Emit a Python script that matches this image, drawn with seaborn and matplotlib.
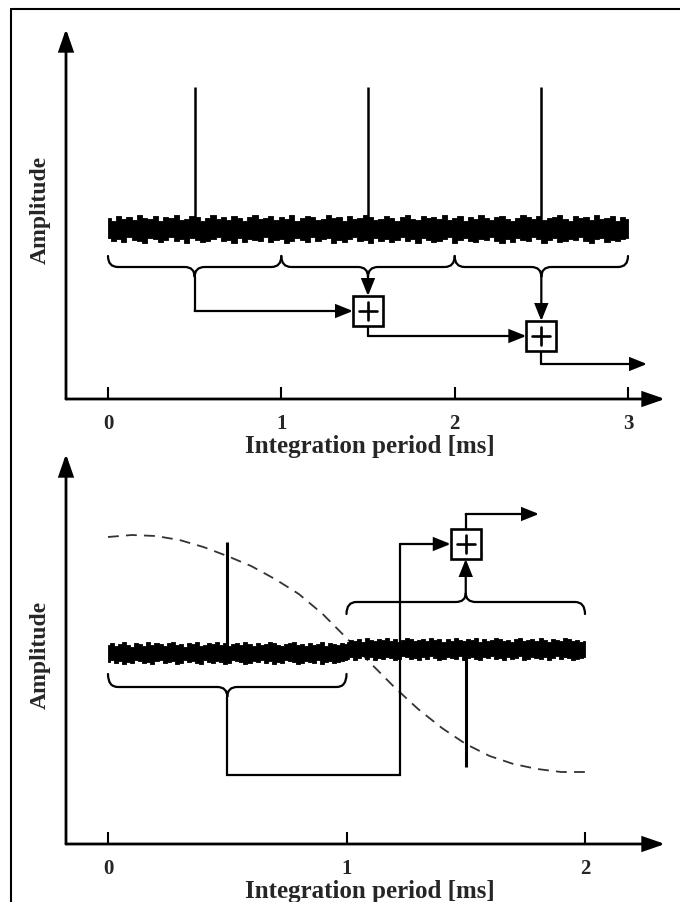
import numpy as np
import pandas as pd
import matplotlib
matplotlib.use("Agg")
import matplotlib.pyplot as plt
import seaborn as sns
from matplotlib.patches import Rectangle, PathPatch
from matplotlib.path import Path
from matplotlib.lines import Line2D

sns.set_theme(style="white")
plt.rcParams["font.family"] = ["Liberation Serif", "DejaVu Serif"]

# ---------------- data ----------------
x_label = "Integration period [ms]"
y_label = "Amplitude"

# top panel (three 1 ms periods)
top_ticks = [0, 1, 2, 3]
top_spike_x = [0.5, 1.5, 2.5]
top_spike_top = 312
top_noise_level = 170
top_noise_hi = [11, 8, 13, 10, 12, 9, 14, 11, 10, 13,
                8, 12, 11, 14, 9, 10, 13, 12, 8, 11,
                14, 10, 12, 9, 13, 11, 8, 12, 14, 10,
                11, 13, 9, 12, 10, 14, 8, 11, 13, 12,
                9, 10, 14, 11, 12, 8, 13, 10, 11, 14,
                12, 9, 10, 13, 11, 8, 12, 14, 10, 9,
                13, 11, 12, 10, 14, 9, 11, 13, 8, 12,
                10, 14, 11, 9, 12, 13, 10, 8, 11, 14,
                12, 10, 13, 9, 11, 12, 14, 10, 8, 13,
                11, 12, 9, 14, 10, 11, 13, 8, 12, 10]
top_noise_lo = [9, 12, 10, 13, 8, 11, 12, 14, 9, 10,
                13, 11, 8, 12, 10, 14, 9, 11, 13, 12,
                10, 8, 12, 11, 14, 9, 13, 10, 11, 12,
                8, 13, 11, 10, 14, 12, 9, 11, 13, 8,
                12, 10, 9, 14, 11, 13, 10, 8, 12, 11,
                14, 9, 12, 10, 13, 11, 8, 12, 10, 14,
                9, 11, 13, 12, 10, 8, 14, 11, 9, 12,
                13, 10, 11, 8, 12, 14, 10, 13, 9, 11,
                12, 8, 10, 14, 11, 9, 13, 12, 10, 11,
                8, 12, 14, 10, 9, 13, 11, 12, 10, 9]
top_periods = [(0, 1), (1, 2), (2, 3)]
top_box_x = [1.5, 2.5]
top_box_y = [88, 63]

# bottom panel (two 1 ms periods, phase flip)
bottom_ticks = [0, 1, 2]
bottom_noise_level = [191, 195]
bottom_up_spike = (0.5, 302)
bottom_down_spike = (1.5, 77)
bl_hi = [8, 10, 7, 9, 11, 8, 6, 10, 9, 7, 11, 8, 10, 9, 7, 10, 11, 8, 9, 6,
         10, 9, 11, 7, 8, 10, 9, 11, 8, 10, 7, 9, 10, 8, 11, 9, 7, 10, 8, 9,
         11, 10, 8, 7, 9, 10, 11, 8, 9, 7, 10, 8, 9, 11, 7, 10, 9, 8, 10, 9]
bl_lo = [9, 7, 10, 8, 11, 9, 10, 7, 8, 10, 9, 11, 8, 7, 10, 9, 8, 11, 10, 7,
         9, 8, 10, 11, 7, 9, 10, 8, 9, 11, 10, 7, 8, 9, 11, 10, 8, 9, 7, 10,
         8, 11, 9, 10, 7, 8, 9, 11, 10, 8, 9, 10, 7, 11, 9, 8, 10, 9, 8, 7]
br_hi = [7, 9, 8, 10, 7, 11, 9, 8, 10, 9, 11, 8, 10, 7, 9, 11, 10, 8, 9, 10,
         8, 11, 9, 10, 7, 10, 8, 11, 9, 8, 10, 9, 11, 7, 10, 8, 9, 11, 10, 8,
         9, 7, 10, 11, 8, 9, 10, 8, 11, 9, 7, 10, 9, 8, 11, 10, 8, 9, 7, 8]
br_lo = [10, 8, 11, 9, 7, 10, 8, 11, 9, 10, 8, 9, 11, 10, 7, 8, 10, 9, 11, 8,
         10, 7, 9, 11, 10, 8, 9, 10, 7, 11, 9, 8, 10, 11, 8, 9, 7, 10, 9, 11,
         8, 10, 9, 7, 11, 10, 8, 9, 10, 8, 11, 9, 7, 10, 8, 9, 11, 10, 9, 8]
carrier_x = [0.0, 0.1, 0.2, 0.3, 0.4, 0.5, 0.6, 0.7, 0.8, 0.9, 1.0,
             1.1, 1.2, 1.3, 1.4, 1.5, 1.6, 1.7, 1.8, 1.9, 2.0]
carrier_y = [307, 309, 308, 304, 297, 288, 278, 265, 250, 230, 206,
             181, 157, 135, 116, 100, 88, 80, 75, 72, 72]

# ---------------- figure ----------------
W, H = 680, 903
fig = plt.figure(figsize=(W / 100, H / 100), dpi=100)
fig.patch.set_facecolor("white")

top_x0_px, top_scale = 108, 173.33
bot_x0_px, bot_scale = 108, 238.5
top_axis_py, bot_axis_py = 400, 845

ax1 = fig.add_axes([0, 0.5, 1, 0.5])
ax2 = fig.add_axes([0, 0, 1, 0.5])
ax1.set_xlim(-top_x0_px / top_scale, (W - top_x0_px) / top_scale)
ax1.set_ylim(top_axis_py - H / 2, top_axis_py)
ax2.set_xlim(-bot_x0_px / bot_scale, (W - bot_x0_px) / bot_scale)
ax2.set_ylim(bot_axis_py - H, bot_axis_py - H / 2)
for ax in (ax1, ax2):
    ax.set_axis_off()

LW = 1.6
FONT = dict(family=["Liberation Serif", "DejaVu Serif"], weight="bold")


def arrow(ax, start, end, lw=LW, hl=1.0, hw=0.4, ms=10):
    ax.annotate("", xy=end, xytext=start,
                arrowprops=dict(arrowstyle=f"-|>,head_length={hl},head_width={hw}",
                                lw=lw, color="black", shrinkA=0, shrinkB=0,
                                mutation_scale=ms, joinstyle="miter"))


def path_arrow(ax, pts, lw=LW):
    xs = [p[0] for p in pts[:-1]]
    ys = [p[1] for p in pts[:-1]]
    ax.plot(xs, ys, color="black", lw=lw, solid_joinstyle="miter")
    arrow(ax, pts[-2], pts[-1], lw=lw)


def brace(ax, x0, x1, ytip, yline, ycusp, rx, lw=LW):
    xm = (x0 + x1) / 2
    verts = [(x0, ytip), (x0, yline), (x0 + rx, yline),
             (xm - rx, yline), (xm, yline), (xm, ycusp),
             (xm, yline), (xm + rx, yline),
             (x1 - rx, yline), (x1, yline), (x1, ytip)]
    codes = [Path.MOVETO, Path.CURVE3, Path.CURVE3,
             Path.LINETO, Path.CURVE3, Path.CURVE3,
             Path.CURVE3, Path.CURVE3,
             Path.LINETO, Path.CURVE3, Path.CURVE3]
    ax.add_patch(PathPatch(Path(verts, codes), fill=False, lw=lw,
                           edgecolor="black", capstyle="round"))


def sum_box(ax, xc, yc, scale, half_px=15, lw=LW):
    hx = half_px / scale
    ax.add_patch(Rectangle((xc - hx, yc - half_px), 2 * hx, 2 * half_px,
                           fill=True, facecolor="white", edgecolor="black",
                           lw=lw + 0.3, zorder=5))
    p = 9
    ax.plot([xc - p / scale, xc + p / scale], [yc, yc], color="black", lw=lw + 0.3, zorder=6)
    ax.plot([xc, xc], [yc - p, yc + p], color="black", lw=lw + 0.3, zorder=6)


def noise(ax, x0, x1, level, hi, lo):
    xs = np.linspace(x0, x1, len(hi))
    ax.fill_between(xs, level - np.array(lo), level + np.array(hi),
                    step="mid", color="black", lw=0.6, edgecolor="black")


def axes_frame(ax, x0_px, scale, axis_top, ticks):
    xa = (66 - x0_px) / scale
    xe = (665 - x0_px) / scale
    arrow(ax, (xa, 0), (xa, axis_top), lw=2.0, hl=1.3, hw=0.45, ms=10)
    arrow(ax, (xa, 0), (xe, 0), lw=2.0, hl=1.3, hw=0.45, ms=10)
    ax.vlines(ticks, 0, 12, color="black", lw=1.5)
    for t in ticks:
        ax.text(t, -24, str(t), ha="center", va="center", fontsize=15, **FONT)
    ax.text((370 - x0_px) / scale, -47, x_label, ha="center", va="center",
            fontsize=18, **FONT)
    ax.text((40 - x0_px) / scale, 190, y_label, rotation=90, ha="center",
            va="center", fontsize=17, **FONT)


# ---------------- top panel ----------------
axes_frame(ax1, top_x0_px, top_scale, 370, top_ticks)
noise(ax1, 0, 3, top_noise_level, top_noise_hi, top_noise_lo)
ax1.vlines(top_spike_x, top_noise_level, top_spike_top, color="black", lw=1.8)
rx1 = 10 / top_scale
for (a, b) in top_periods:
    brace(ax1, a, b, 143, 132, 122, rx1)
hb1 = 15 / top_scale
path_arrow(ax1, [(0.5, 122), (0.5, top_box_y[0]), (top_box_x[0] - hb1, top_box_y[0])])
arrow(ax1, (1.5, 122), (1.5, top_box_y[0] + 15))
path_arrow(ax1, [(1.5, top_box_y[0] - 15), (1.5, top_box_y[1]), (top_box_x[1] - hb1, top_box_y[1])])
arrow(ax1, (2.5, 122), (2.5, top_box_y[1] + 15))
path_arrow(ax1, [(2.5, top_box_y[1] - 15), (2.5, 35), ((647 - top_x0_px) / top_scale, 35)])
for xc, yc in zip(top_box_x, top_box_y):
    sum_box(ax1, xc, yc, top_scale)

# ---------------- bottom panel ----------------
axes_frame(ax2, bot_x0_px, bot_scale, 390, bottom_ticks)
carrier = pd.DataFrame({"t": carrier_x, "a": carrier_y})
sns.lineplot(data=carrier, x="t", y="a", ax=ax2, color="#333333", lw=1.3,
             linestyle=(0, (6, 4)), zorder=1)
noise(ax2, 0, 1, bottom_noise_level[0], bl_hi, bl_lo)
noise(ax2, 1, 2, bottom_noise_level[1], br_hi, br_lo)
ax2.vlines([bottom_up_spike[0]], bottom_noise_level[0], bottom_up_spike[1], color="black", lw=2.2)
ax2.vlines([bottom_down_spike[0]], bottom_down_spike[1], bottom_noise_level[1], color="black", lw=2.2)
rx2 = 10 / bot_scale
brace(ax2, 0, 1, 170, 157, 147, rx2)
brace(ax2, 1, 2, 230, 242, 251, rx2)
hb2 = 15 / bot_scale
xr = (400 - bot_x0_px) / bot_scale
path_arrow(ax2, [(0.5, 147), (0.5, 69), (xr, 69), (xr, 300), (1.5 - hb2, 300)])
arrow(ax2, (1.5, 251), (1.5, 285))
path_arrow(ax2, [(1.5, 315), (1.5, 330), ((539 - bot_x0_px) / bot_scale, 330)])
sum_box(ax2, 1.5, 300, bot_scale)
if ax2.get_legend() is not None:
    ax2.get_legend().remove()

# outer frame (left and top edges)
fig.add_artist(Line2D([11 / W, 11 / W], [0, 1 - 10 / H], color="black", lw=1.5))
fig.add_artist(Line2D([11 / W, 1], [1 - 10 / H, 1 - 10 / H], color="black", lw=1.5))

fig.savefig("out.png", dpi=100, facecolor="white")
